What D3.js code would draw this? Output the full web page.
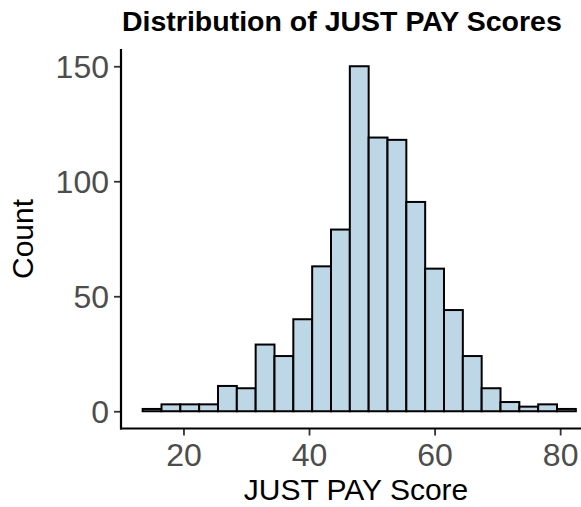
<!DOCTYPE html>
<html>
<head>
<meta charset="utf-8">
<script src="https://cdn.jsdelivr.net/npm/d3@7"></script>
<style>
  body { margin: 0; background: #fff; }
  text { font-family: "Liberation Sans", Arial, sans-serif; }
</style>
</head>
<body>
<svg id="chart"></svg>
<script>
// Histogram bins (left edges, width 3) and counts
const binStarts = [13.5, 16.5, 19.5, 22.5, 25.5, 28.5, 31.5, 34.5, 37.5, 40.5, 43.5, 46.5,
  49.5, 52.5, 55.5, 58.5, 61.5, 64.5, 67.5, 70.5, 73.5, 76.5, 79.5];
const binWidth = 3;
const counts = [1, 3, 3, 3, 11, 10, 29, 24, 40, 63, 79, 150,
  119, 118, 91, 62, 44, 24, 10, 4, 2, 3, 1];
const xTicks = [20, 40, 60, 80];
const yTicks = [0, 50, 100, 150];

const W = 581, H = 507;
const panel = { left: 121, top: 49, right: 597.5, bottom: 428.5 };

const svg = d3.select("#chart").attr("width", W).attr("height", H);

// ggplot-style 5% expansion on both axes
const x = d3.scaleLinear().domain([10.05, 85.95]).range([panel.left, panel.right]);
const y = d3.scaleLinear().domain([-7.5, 157.5]).range([panel.bottom, panel.top]);

// bars
svg.append("g")
  .selectAll("rect")
  .data(binStarts.map((b, i) => ({ x0: b, n: counts[i] })))
  .enter()
  .append("rect")
  .attr("x", d => x(d.x0))
  .attr("width", d => x(d.x0 + binWidth) - x(d.x0))
  .attr("y", d => y(d.n))
  .attr("height", d => y(0) - y(d.n))
  .attr("fill", "#BDD7E7")
  .attr("stroke", "#000")
  .attr("stroke-width", 2);

// y axis
const yAxis = svg.append("g")
  .attr("transform", `translate(${panel.left},0)`)
  .call(d3.axisLeft(y).tickValues(yTicks).tickSize(7).tickPadding(5));
yAxis.select(".domain").remove();
yAxis.selectAll(".tick line").attr("stroke", "#333").attr("stroke-width", 1.8);
yAxis.selectAll(".tick text")
  .attr("fill", "#4D4D4D")
  .style("font-size", "32px")
  .attr("dy", "0.36em");

// x axis
const xAxis = svg.append("g")
  .attr("transform", `translate(0,${panel.bottom})`)
  .call(d3.axisBottom(x).tickValues(xTicks).tickSize(7).tickPadding(7));
xAxis.select(".domain").remove();
xAxis.selectAll(".tick line").attr("stroke", "#333").attr("stroke-width", 1.8);
xAxis.selectAll(".tick text")
  .attr("fill", "#4D4D4D")
  .style("font-size", "32px")
  .attr("dy", "0.72em");

// axis lines
svg.append("line")
  .attr("x1", panel.left).attr("x2", panel.left)
  .attr("y1", panel.top).attr("y2", panel.bottom + 1)
  .attr("stroke", "#000").attr("stroke-width", 2.2);
svg.append("line")
  .attr("x1", panel.left - 1).attr("x2", panel.right)
  .attr("y1", panel.bottom).attr("y2", panel.bottom)
  .attr("stroke", "#000").attr("stroke-width", 2.2);

// titles
svg.append("text")
  .attr("x", 122).attr("y", 31)
  .style("font-size", "28.5px").style("font-weight", "bold")
  .text("Distribution of JUST PAY Scores");

svg.append("text")
  .attr("x", 356).attr("y", 500)
  .attr("text-anchor", "middle")
  .style("font-size", "30px")
  .text("JUST PAY Score");

svg.append("text")
  .attr("transform", "translate(33,239) rotate(-90)")
  .attr("text-anchor", "middle")
  .style("font-size", "30px")
  .text("Count");
</script>
</body>
</html>
